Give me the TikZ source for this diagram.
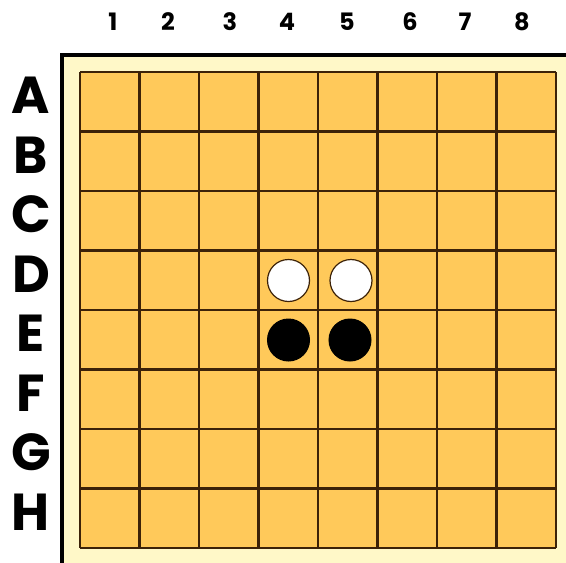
\documentclass[tikz,border=0pt]{standalone}
\usepackage{fontspec}
\newfontfamily\lblfont{Poppins}
\definecolor{boardcream}{HTML}{FFF8C8}
\definecolor{cellorange}{HTML}{FFC95A}
\definecolor{gridbrown}{HTML}{3C2208}
\tikzset{
  gridline/.style={draw=gridbrown,line width=2.6pt},
  whitestone/.style={circle,fill=white,draw=gridbrown,line width=1.2pt,minimum size=42pt,inner sep=0pt},
  blackstone/.style={circle,fill=black,draw=black,line width=1pt,minimum size=42pt,inner sep=0pt},
  collabel/.style={font=\lblfont\bfseries\fontsize{24}{24}\selectfont,inner sep=0pt,anchor=center},
  rowlabel/.style={font=\lblfont\bfseries\fontsize{52}{52}\selectfont,inner sep=0pt,anchor=center}
}
\begin{document}
\begin{tikzpicture}[x=1pt,y=-1pt]
\useasboundingbox (0,0) rectangle (566,563);
\fill[boardcream] (62,55) rectangle (566,563);
\draw[black,line width=4pt] (62,563) -- (62,55) -- (566,55);
\fill[cellorange] (80,72) rectangle (556,548);
\foreach \i in {0,...,8}{
  \draw[gridline] ({80+59.5*\i},72) -- ({80+59.5*\i},548);
  \draw[gridline] (80,{72+59.5*\i}) -- (556,{72+59.5*\i});
}
\node[whitestone] (d4) at (288.5,280.5) {};
\node[whitestone] (d5) at (351,280.5) {};
\node[blackstone] (e4) at (288.5,340) {};
\node[blackstone] (e5) at (350,340) {};
\foreach \n/\x in {1/113,2/168,3/230,4/287,5/347,6/410,7/465,8/522}{
  \node[collabel] (c\n) at (\x,22) {\n};
}
\foreach \l/\y in {A/95,B/155,C/214,D/274,E/333,F/393,G/452,H/512}{
  \node[rowlabel] (r\l) at (31,\y) {\l};
}
\end{tikzpicture}
\end{document}
